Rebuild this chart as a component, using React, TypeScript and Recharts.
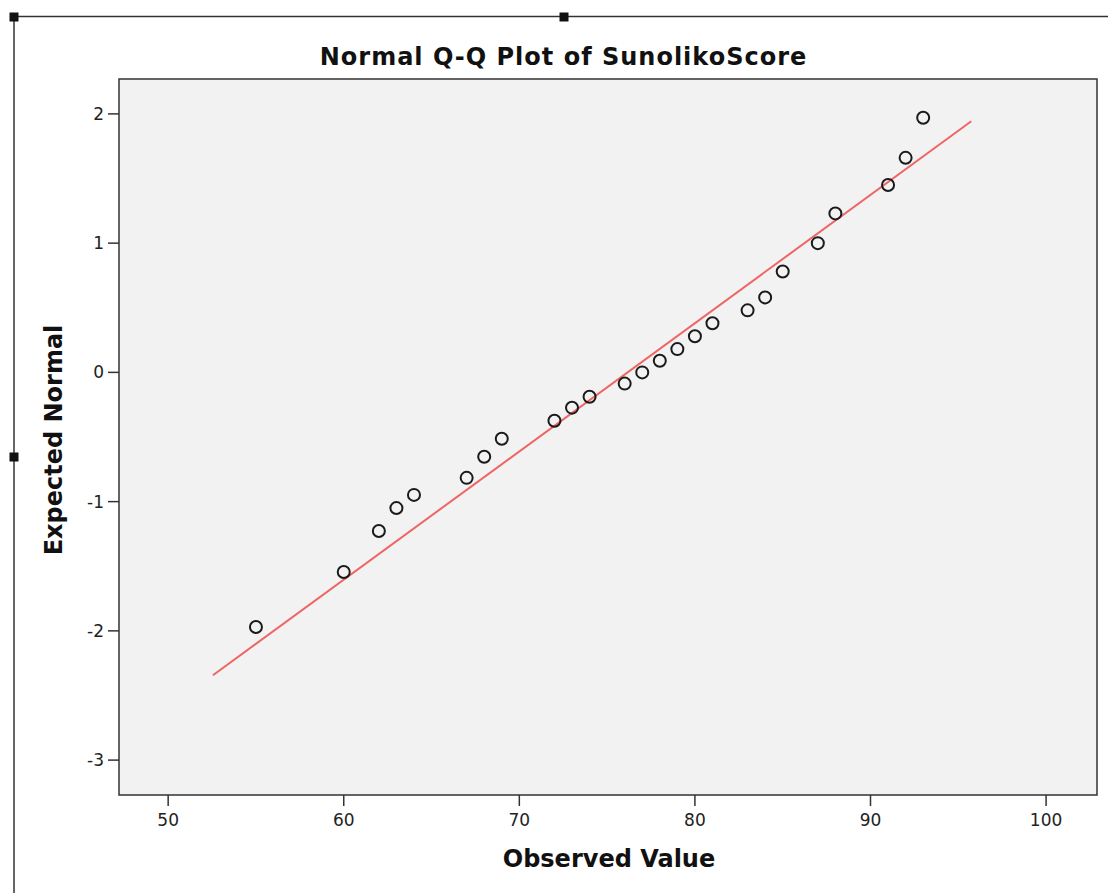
import {
  ScatterChart,
  Scatter,
  XAxis,
  YAxis,
  ReferenceArea,
  ReferenceLine,
} from 'recharts'

// observed scores and their expected normal values
const observed = [55, 60, 62, 63, 64, 67, 68, 69, 72, 73, 74, 76, 77, 78, 79, 80, 81, 83, 84, 85, 87, 88, 91, 92, 93]
const expected = [
  -1.97, -1.545, -1.227, -1.05, -0.948, -0.816, -0.653, -0.513, -0.374, -0.273, -0.188, -0.087, 0.0,
  0.09, 0.18, 0.28, 0.38, 0.48, 0.58, 0.78, 1.0, 1.23, 1.45, 1.66, 1.97,
]
const xTicks = [50, 60, 70, 80, 90, 100]
const yTicks = [-3, -2, -1, 0, 1, 2]
const xDomain = [47.2, 102.9]
const yDomain = [-3.27, 2.27]
// reference line end points (observed, expected)
const lineStart = { x: 52.55, y: -2.343 }
const lineEnd = { x: 95.74, y: 1.943 }

const points = observed.map((x, i) => ({ x, y: expected[i] }))

const FONT = '"DejaVu Sans", sans-serif'
const INK = '#333333'

function OpenCircle(props: { cx?: number; cy?: number }) {
  const { cx, cy } = props
  if (cx == null || cy == null) return null
  return <circle cx={cx} cy={cy} r={6} fill="none" stroke="#1a1a1a" strokeWidth={2} />
}

function Handle({ x, y }: { x: number; y: number }) {
  return <rect x={x - 4.5} y={y - 4.5} width={9} height={9} fill="#111" />
}

export default function App() {
  return (
    <div style={{ position: 'absolute', left: 0, top: 0, width: 1108, height: 893, background: '#fff' }}>
      <ScatterChart
        width={1108}
        height={893}
        margin={{ top: 79, right: 11, bottom: 68, left: 59 }}
      >
        <XAxis
          type="number"
          dataKey="x"
          domain={xDomain}
          ticks={xTicks}
          allowDataOverflow
          axisLine={false}
          tickSize={11}
          tickMargin={8}
          tickLine={{ stroke: INK, strokeWidth: 1.5 }}
          tick={{ fill: '#222', fontSize: 17, fontFamily: FONT }}
          height={30}
        />
        <YAxis
          type="number"
          dataKey="y"
          domain={yDomain}
          ticks={yTicks}
          allowDataOverflow
          axisLine={false}
          tickSize={11}
          tickMargin={4}
          tickLine={{ stroke: INK, strokeWidth: 1.5 }}
          tick={{ fill: '#222', fontSize: 17, fontFamily: FONT }}
          width={60}
        />
        <ReferenceArea
          x1={xDomain[0]}
          x2={xDomain[1]}
          y1={yDomain[0]}
          y2={yDomain[1]}
          fill="#f2f2f2"
          fillOpacity={1}
          stroke={INK}
          strokeWidth={1.5}
        />
        <ReferenceLine
          segment={[lineStart, lineEnd]}
          stroke="#ef6464"
          strokeWidth={2}
        />
        <Scatter data={points} shape={<OpenCircle />} isAnimationActive={false} />
      </ScatterChart>

      <svg
        width={1108}
        height={893}
        style={{ position: 'absolute', left: 0, top: 0, pointerEvents: 'none' }}
      >
        <line x1={12} y1={16.5} x2={1108} y2={16.5} stroke={INK} strokeWidth={1.5} />
        <line x1={14} y1={16} x2={14} y2={893} stroke={INK} strokeWidth={1.5} />
        <Handle x={14} y={17} />
        <Handle x={564} y={17} />
        <Handle x={14} y={457} />
        <text
          x={563.5}
          y={65}
          textAnchor="middle"
          fontFamily={FONT}
          fontWeight="bold"
          fontSize={24}
          letterSpacing={1}
          fill="#111"
        >
          Normal Q-Q Plot of SunolikoScore
        </text>
        <text
          x={609}
          y={867}
          textAnchor="middle"
          fontFamily={FONT}
          fontWeight="bold"
          fontSize={24}
          fill="#111"
        >
          Observed Value
        </text>
        <text
          x={62}
          y={440}
          transform="rotate(-90 62 440)"
          textAnchor="middle"
          fontFamily={FONT}
          fontWeight="bold"
          fontSize={24}
          fill="#111"
        >
          Expected Normal
        </text>
      </svg>
    </div>
  )
}
